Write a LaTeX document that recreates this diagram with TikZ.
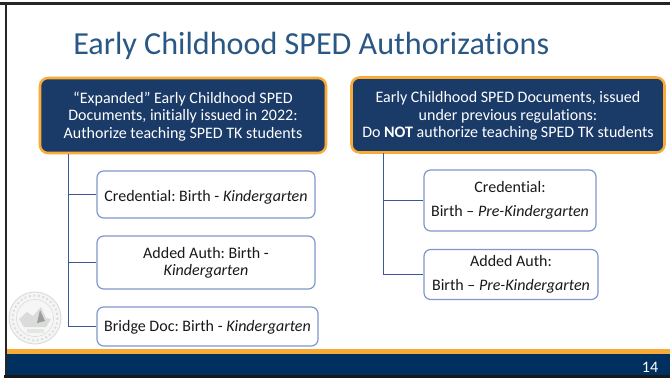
\documentclass[tikz,border=0pt]{standalone}
\usepackage{fontspec}
\setmainfont{Carlito}[Ligatures=NoCommon]
\definecolor{navy}{HTML}{1A3A68}
\definecolor{barnavy}{HTML}{003060}
\definecolor{gold}{HTML}{F9AB37}
\definecolor{titleblue}{HTML}{2A5884}
\definecolor{edgeblue}{HTML}{8096CC}
\definecolor{linkblue}{HTML}{3A5798}
\definecolor{sealgrey}{HTML}{DADCDA}
\newcommand\dnA[1]{\raisebox{-0.75pt}[\height][\depth]{#1}}
\newcommand\dnB[1]{\raisebox{-1.9pt}[\height][\depth]{#1}}
\tikzset{
  px/.style={x=0.75pt,y=-0.75pt},
  head/.style={draw=gold,line width=1.9pt,fill=navy,rounded corners=6pt,text=white,align=center,inner sep=0pt,font=\fontsize{12}{13}\selectfont\frenchspacing},
  child/.style={draw=edgeblue,line width=0.9pt,fill=white,rounded corners=5pt,text=black!90,align=center,inner sep=0pt,font=\fontsize{12}{13}\selectfont\frenchspacing},
  childwide/.style={child,font=\fontsize{12}{18}\selectfont\frenchspacing},
  link/.style={draw=linkblue,line width=0.9pt},
  seal/.style={draw=sealgrey,line width=0.5pt}
}
\begin{document}
\begin{tikzpicture}[px]
\useasboundingbox (0,0) rectangle (670,378);
\fill[white] (0,0) rectangle (670,378);
% frame
\fill[black!85] (0,2.5) rectangle (670,5);
\fill[black!85] (4.5,2.5) rectangle (7,378);
\fill[black!90] (4,375) rectangle (670,378);
% footer
\fill[gold] (7,349) rectangle (670,354);
\fill[barnavy] (7,354) rectangle (670,375);
\node[text=white,font=\fontsize{12}{13}\selectfont,anchor=center] (pg) at (650,367) {14};
% title
\node[text=titleblue,font=\fontsize{24.1}{28}\selectfont,anchor=base west,inner sep=0pt] (title) at (73,54.5) {Early Childhood SPED Authorizations};
% seal
\begin{scope}
\fill[sealgrey!30] (35,318) circle (26);
\draw[seal,line width=0.7pt] (35,318) circle (26);
\draw[seal,line width=1.4pt,dotted] (35,318) circle (22.5);
\draw[seal] (35,318) circle (18.5);
\fill[white!75!sealgrey] (35,318) circle (18);
\fill[sealgrey] (19,319) -- (27,312) -- (33,316) -- (41,307) -- (46,318) -- (51,319) -- (46,327) -- (24,327) -- cycle;
\fill[sealgrey!60!black!80] (40,310) -- (45,321) -- (37,323) -- cycle;
\fill[sealgrey!70] (27,329) rectangle (44,333);
\end{scope}
% left column
\node[head,minimum width=286pt*0.75,minimum height=75pt*0.75] (h1) at (183,115.5) {\dnA{“Expanded” Early Childhood SPED}\\\dnA{Documents, initially issued in 2022:}\\\dnA{Authorize teaching SPED TK students}};
\node[child,minimum width=218pt*0.75,minimum height=47pt*0.75] (c1) at (206,194.5) {\dnB{Credential: Birth - \textit{Kindergarten}}};
\node[child,minimum width=218pt*0.75,minimum height=53pt*0.75] (c2) at (206,262.5) {Added Auth: Birth -\\\textit{Kindergarten}};
\node[child,minimum width=221pt*0.75,minimum height=39pt*0.75] (c3) at (207.5,326.5) {\dnA{Bridge Doc: Birth - \textit{Kindergarten}}};
\coordinate (t1) at (68.5,154);
\draw[link] (t1) |- (c1.west);
\draw[link] (t1) |- (c2.west);
\draw[link] (t1) |- (c3.west);
% right column
\node[head,minimum width=313pt*0.75,minimum height=75pt*0.75] (h2) at (508,115) {\dnA{Early Childhood SPED Documents, issued}\\\dnA{under previous regulations:}\\\dnA{Do \textbf{NOT} authorize teaching SPED TK students}};
\node[childwide,minimum width=172pt*0.75,minimum height=61pt*0.75] (d1) at (510,200.5) {Credential:\\Birth – \textit{Pre-Kindergarten}};
\node[childwide,minimum width=174pt*0.75,minimum height=50pt*0.75] (d2) at (511,274.5) {Added Auth:\\Birth – \textit{Pre-Kindergarten}};
\coordinate (t2) at (383.5,153);
\draw[link] (t2) |- (d1.west);
\draw[link] (t2) |- (d2.west);
\end{tikzpicture}
\end{document}
